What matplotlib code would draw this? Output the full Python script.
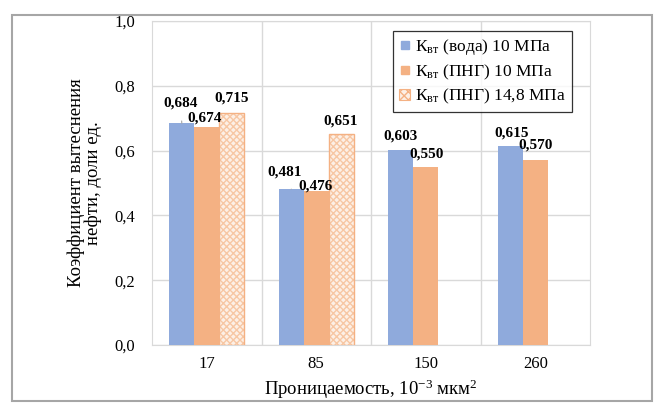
import numpy as np
import matplotlib
matplotlib.use("Agg")
import matplotlib.pyplot as plt
from matplotlib.lines import Line2D
from matplotlib.patches import Rectangle, Patch

plt.rcParams['font.family'] = ['Liberation Serif', 'DejaVu Serif']
plt.rcParams['mathtext.fontset'] = 'custom'
plt.rcParams['mathtext.rm'] = 'Liberation Serif'
plt.rcParams['mathtext.it'] = 'Liberation Serif:italic'
plt.rcParams['mathtext.bf'] = 'Liberation Serif:bold'

# permeability classes and displacement coefficients
categories = ['17', '85', '150', '260']
k_water_10 = [0.684, 0.481, 0.603, 0.615]
k_gas_10 = [0.674, 0.476, 0.550, 0.570]
k_gas_148 = [0.715, 0.651, None, None]
yticks = [0.0, 0.2, 0.4, 0.6, 0.8, 1.0]

series_names = ['К$_{\\mathrm{вт}}$ (вода) 10 МПа',
                'К$_{\\mathrm{вт}}$ (ПНГ) 10 МПа',
                'К$_{\\mathrm{вт}}$ (ПНГ) 14,8 МПа']

blue = '#8faadc'
orange = '#f4b183'
hatch_c = '#f7c7a4'
light = '#fdf0e6'
grid_c = '#d9d9d9'

fig = plt.figure(figsize=(6.54, 4.03), dpi=100)
ax = fig.add_axes([152 / 654, 58 / 403, 438 / 654, 324 / 403])

x = np.arange(len(categories))
w = 0.228

ax.bar(x - w, k_water_10, w, color=blue, zorder=3)
ax.bar(x, k_gas_10, w, color=orange, zorder=3)
idx = [i for i, v in enumerate(k_gas_148) if v is not None]
x3 = x[idx] + w
v3 = [k_gas_148[i] for i in idx]
# dotted fill first, then the solid outline on top
ax.bar(x3, v3, w, color=light, edgecolor=hatch_c, hatch='xxxxx',
       linewidth=0, zorder=3)
ax.bar(x3, v3, w, fill=False, edgecolor=orange, linewidth=1.0, zorder=4)

# label offsets in pixels (dx, dy, leader line)
offs_water = [(-1, 20, True), (-7, 17, True), (0, 14, False), (1, 13, False)]
offs_gas = [(-2, 9, False), (-1, 5, False), (1, 13, False), (0, 15, False)]
offs_gas148 = [(0, 15, False), (-1, 13, False)]

def label(xc, v, off):
    dx, dy, lead = off
    txt = ('%.3f' % v).replace('.', ',')
    kw = {}
    if lead:
        kw['arrowprops'] = dict(arrowstyle='-', color='#a6a6a6', lw=0.8,
                                shrinkA=6, shrinkB=0)
    ax.annotate(txt, xy=(xc, v), xytext=(dx, dy), textcoords='offset pixels',
                ha='center', va='center', fontsize=11, fontweight='bold',
                zorder=5, **kw)

for i in range(len(categories)):
    label(x[i] - w, k_water_10[i], offs_water[i])
    label(x[i], k_gas_10[i], offs_gas[i])
for j, i in enumerate(idx):
    label(x[i] + w, k_gas_148[i], offs_gas148[j])

ax.set_xlim(-0.5, len(categories) - 0.5)
ax.set_ylim(0, 1.0)
ax.set_xticks(x)
ax.set_xticklabels(categories, fontsize=12)
ax.set_yticks(yticks)
ax.set_yticklabels([('%.1f' % t).replace('.', ',') for t in yticks], fontsize=12)
ax.tick_params(length=0)
ax.tick_params(axis='y', pad=12)
ax.tick_params(axis='x', pad=8)

ax.set_xticks(np.arange(0.5, len(categories) - 0.5, 1.0), minor=True)
ax.grid(axis='y', color=grid_c, lw=1.0, zorder=0)
ax.grid(axis='x', which='minor', color=grid_c, lw=1.0, zorder=0)
ax.tick_params(which='minor', length=0)
for s in ax.spines.values():
    s.set_color(grid_c)

ax.set_ylabel('Коэффициент вытеснения\nнефти, доли ед.', fontsize=13.5,
              labelpad=9, linespacing=1.0)
ax.set_xlabel('Проницаемость, 10$^{\\mathrm{-3}}$ мкм$^{\\mathrm{2}}$',
              fontsize=13.5, labelpad=4)

handles = [Line2D([], [], ls='none', marker='s', ms=6, color=blue),
           Line2D([], [], ls='none', marker='s', ms=6, color=orange),
           Patch(facecolor=light, edgecolor=orange, hatch='xxxx', lw=0.8)]
leg = fig.legend(handles, series_names, loc='upper right',
                 bbox_to_anchor=(572 / 654, 372 / 403), fontsize=12.5,
                 frameon=True, fancybox=False, edgecolor='black',
                 handlelength=0.6, handleheight=0.6, handletextpad=0.3,
                 labelspacing=0.3, borderpad=0.35, borderaxespad=0)
leg.get_frame().set_linewidth(0.9)

# outer frame of the chart area
fig.patches.append(Rectangle((12 / 654, 2 / 403), 640 / 654, 386 / 403,
                             transform=fig.transFigure, fill=False,
                             edgecolor='#a6a6a6', lw=1.5))

fig.savefig('out.png', dpi=100)
